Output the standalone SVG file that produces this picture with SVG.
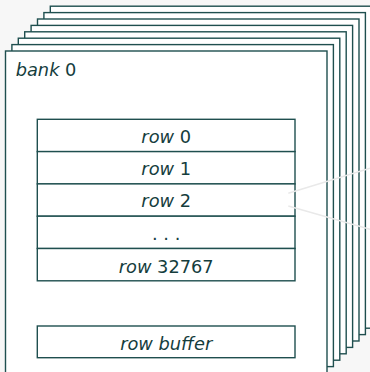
<svg xmlns="http://www.w3.org/2000/svg" width="370" height="372" viewBox="0 0 370 372">
  <style>
    .bank { fill: #ffffff; stroke: #1f4f4f; stroke-width: 1.4; }
    .row { fill: #ffffff; stroke: #1f4f4f; stroke-width: 1.4; }
    .lbl { font-family: "DejaVu Sans", "Liberation Sans", sans-serif; font-size: 17.8px; fill: #153d3d; }
    .it { font-style: italic; }
    .zoom { stroke: #e9e9e9; stroke-width: 1.5; fill: none; }
  </style>
  <rect x="0" y="0" width="370" height="372" fill="#f7f7f7"/>
  <g id="bank-stack">
    <rect class="bank" x="50.3" y="6.2" width="321.5" height="322"/>
    <rect class="bank" x="43.9" y="12.6" width="321.5" height="322"/>
    <rect class="bank" x="37.5" y="19" width="321.5" height="322"/>
    <rect class="bank" x="31.1" y="25.4" width="321.5" height="322"/>
    <rect class="bank" x="24.7" y="31.8" width="321.5" height="322"/>
    <rect class="bank" x="18.3" y="38.2" width="321.5" height="322"/>
    <rect class="bank" x="11.9" y="44.6" width="321.5" height="322"/>
  </g>
  <g id="bank0">
    <rect class="bank" x="5.5" y="51" width="321.5" height="322"/>
    <text class="lbl" x="15.7" y="75.5"><tspan class="it">bank</tspan> 0</text>
  </g>
  <g id="row0">
    <rect class="row" x="37.3" y="119.3" width="257.7" height="32.3"/>
    <text class="lbl" x="166.2" y="143" text-anchor="middle"><tspan class="it">row</tspan> 0</text>
  </g>
  <g id="row1">
    <rect class="row" x="37.3" y="151.6" width="257.7" height="32.3"/>
    <text class="lbl" x="166.2" y="175.3" text-anchor="middle"><tspan class="it">row</tspan> 1</text>
  </g>
  <g id="row2">
    <rect class="row" x="37.3" y="183.9" width="257.7" height="32.3"/>
    <text class="lbl" x="166.2" y="207.3" text-anchor="middle"><tspan class="it">row</tspan> 2</text>
  </g>
  <g id="rowdots">
    <rect class="row" x="37.3" y="216.2" width="257.7" height="32.3"/>
    <text class="lbl" x="166.2" y="239.6" text-anchor="middle">. . .</text>
  </g>
  <g id="row32767">
    <rect class="row" x="37.3" y="248.5" width="257.7" height="32.3"/>
    <text class="lbl" x="166.2" y="272.6" text-anchor="middle"><tspan class="it">row</tspan> 32767</text>
  </g>
  <g id="rowbuffer">
    <rect class="row" x="37.3" y="326" width="257.7" height="31.7"/>
    <text class="lbl" x="166.2" y="349.6" text-anchor="middle"><tspan class="it">row buffer</tspan></text>
  </g>
  <g id="connectors">
    <line class="zoom" x1="288.3" y1="193.3" x2="370" y2="168.3"/>
    <line class="zoom" x1="288.3" y1="206" x2="370" y2="229.3"/>
  </g>
</svg>
